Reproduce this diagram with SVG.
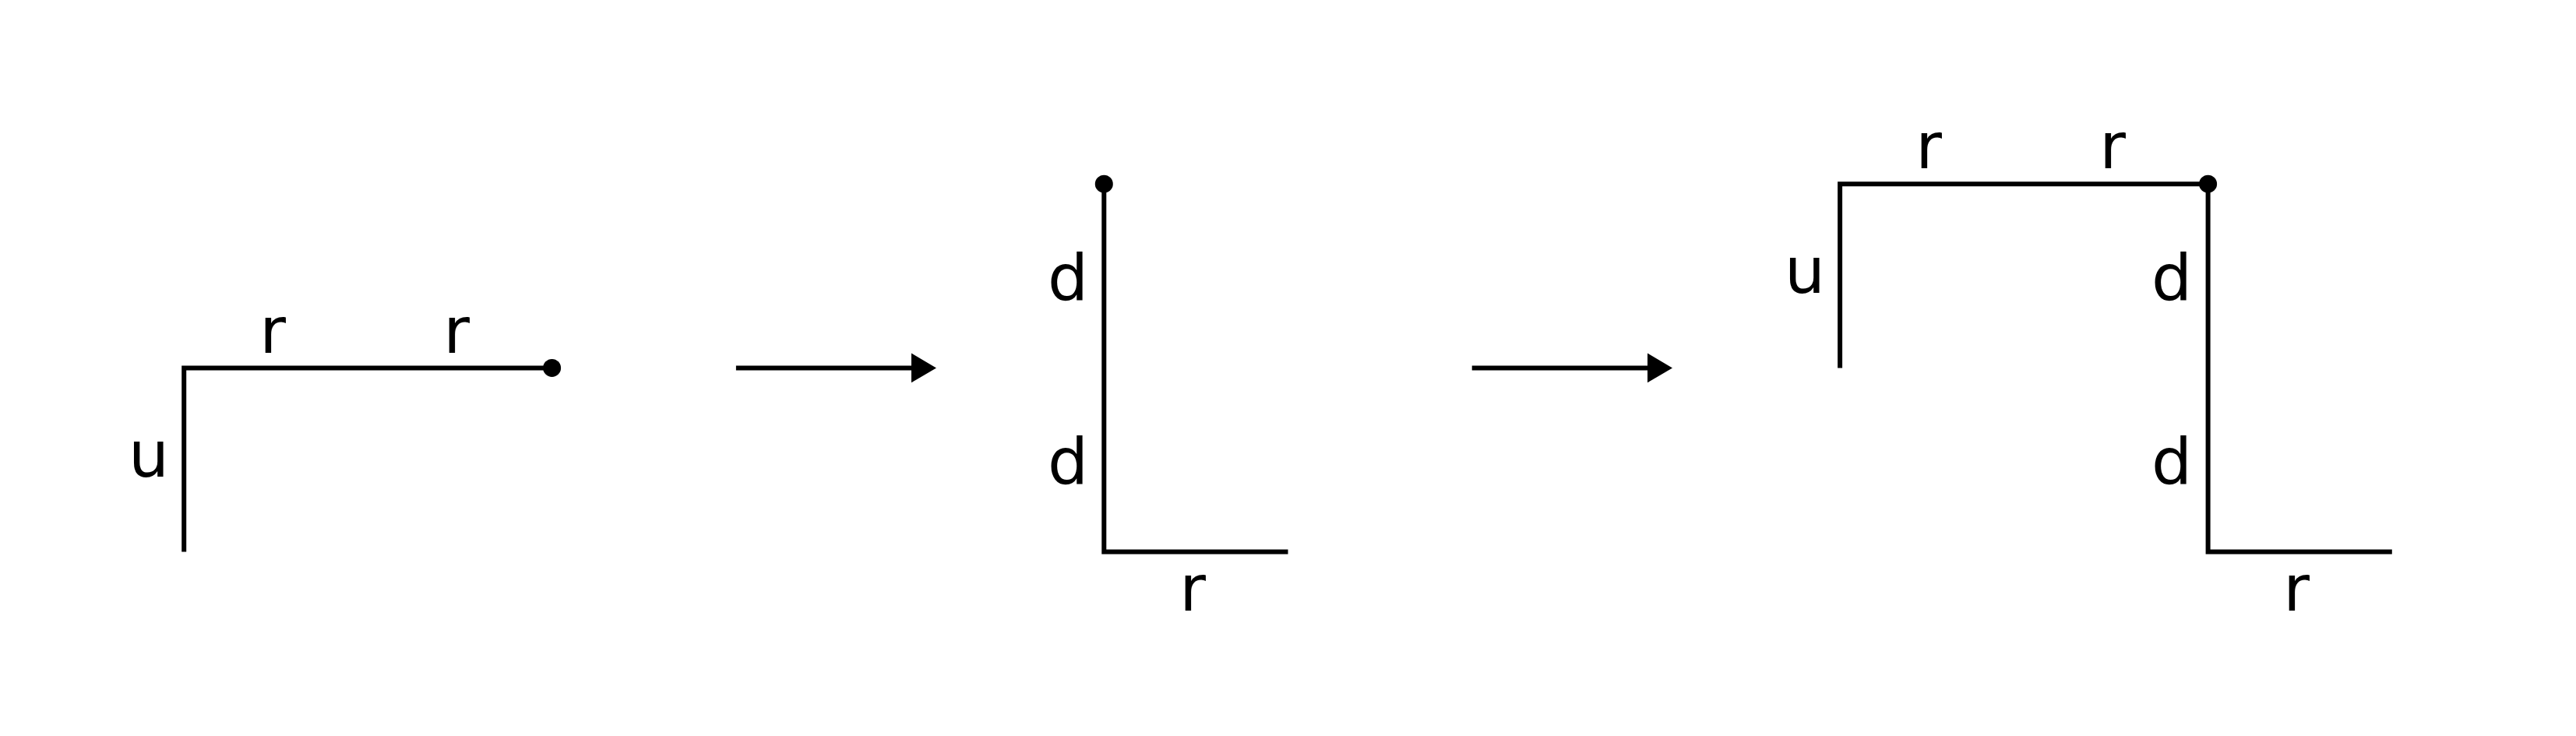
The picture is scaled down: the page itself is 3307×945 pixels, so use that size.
<svg xmlns="http://www.w3.org/2000/svg" width="3307" height="945" viewBox="0 0 3307 945">
<style>
.ln{fill:none;stroke:#000;stroke-width:6;stroke-linejoin:miter;stroke-linecap:butt}
.dot{fill:#000}
.lb{font-family:"DejaVu Sans",sans-serif;font-size:82px;fill:#000;text-anchor:middle}
</style>
<rect width="3307" height="945" fill="#fff"/>
<g id="figure1">
<polyline class="ln" points="236.2,708.6 236.2,472.4 708.6,472.4"/>
<circle class="dot" cx="708.6" cy="472.4" r="11.5"/>
<text class="lb" x="350" y="453">r</text>
<text class="lb" x="586" y="453">r</text>
<text class="lb" x="191" y="612">u</text>
</g>
<g id="figure2">
<polyline class="ln" points="1417.3,236.2 1417.3,708.6 1653.5,708.6"/>
<circle class="dot" cx="1417.3" cy="236.2" r="11.5"/>
<text class="lb" x="1371" y="385">d</text>
<text class="lb" x="1371" y="621">d</text>
<text class="lb" x="1531" y="784">r</text>
</g>
<g id="figure3">
<polyline class="ln" points="2362.1,472.4 2362.1,236.2 2834.6,236.2 2834.6,708.6 3070.8,708.6"/>
<circle class="dot" cx="2834.6" cy="236.2" r="11.5"/>
<text class="lb" x="2476" y="216">r</text>
<text class="lb" x="2712" y="216">r</text>
<text class="lb" x="2317" y="376">u</text>
<text class="lb" x="2788" y="385">d</text>
<text class="lb" x="2788" y="621">d</text>
<text class="lb" x="2948" y="784">r</text>
</g>
<g id="connectors">
<line class="ln" x1="944.9" y1="472.4" x2="1172" y2="472.4"/>
<path class="dot" d="M1170,453.5 L1202,472.4 L1170,491.3 Z"/>
<line class="ln" x1="1889.7" y1="472.4" x2="2117" y2="472.4"/>
<path class="dot" d="M2115,453.5 L2147,472.4 L2115,491.3 Z"/>
</g>
</svg>
